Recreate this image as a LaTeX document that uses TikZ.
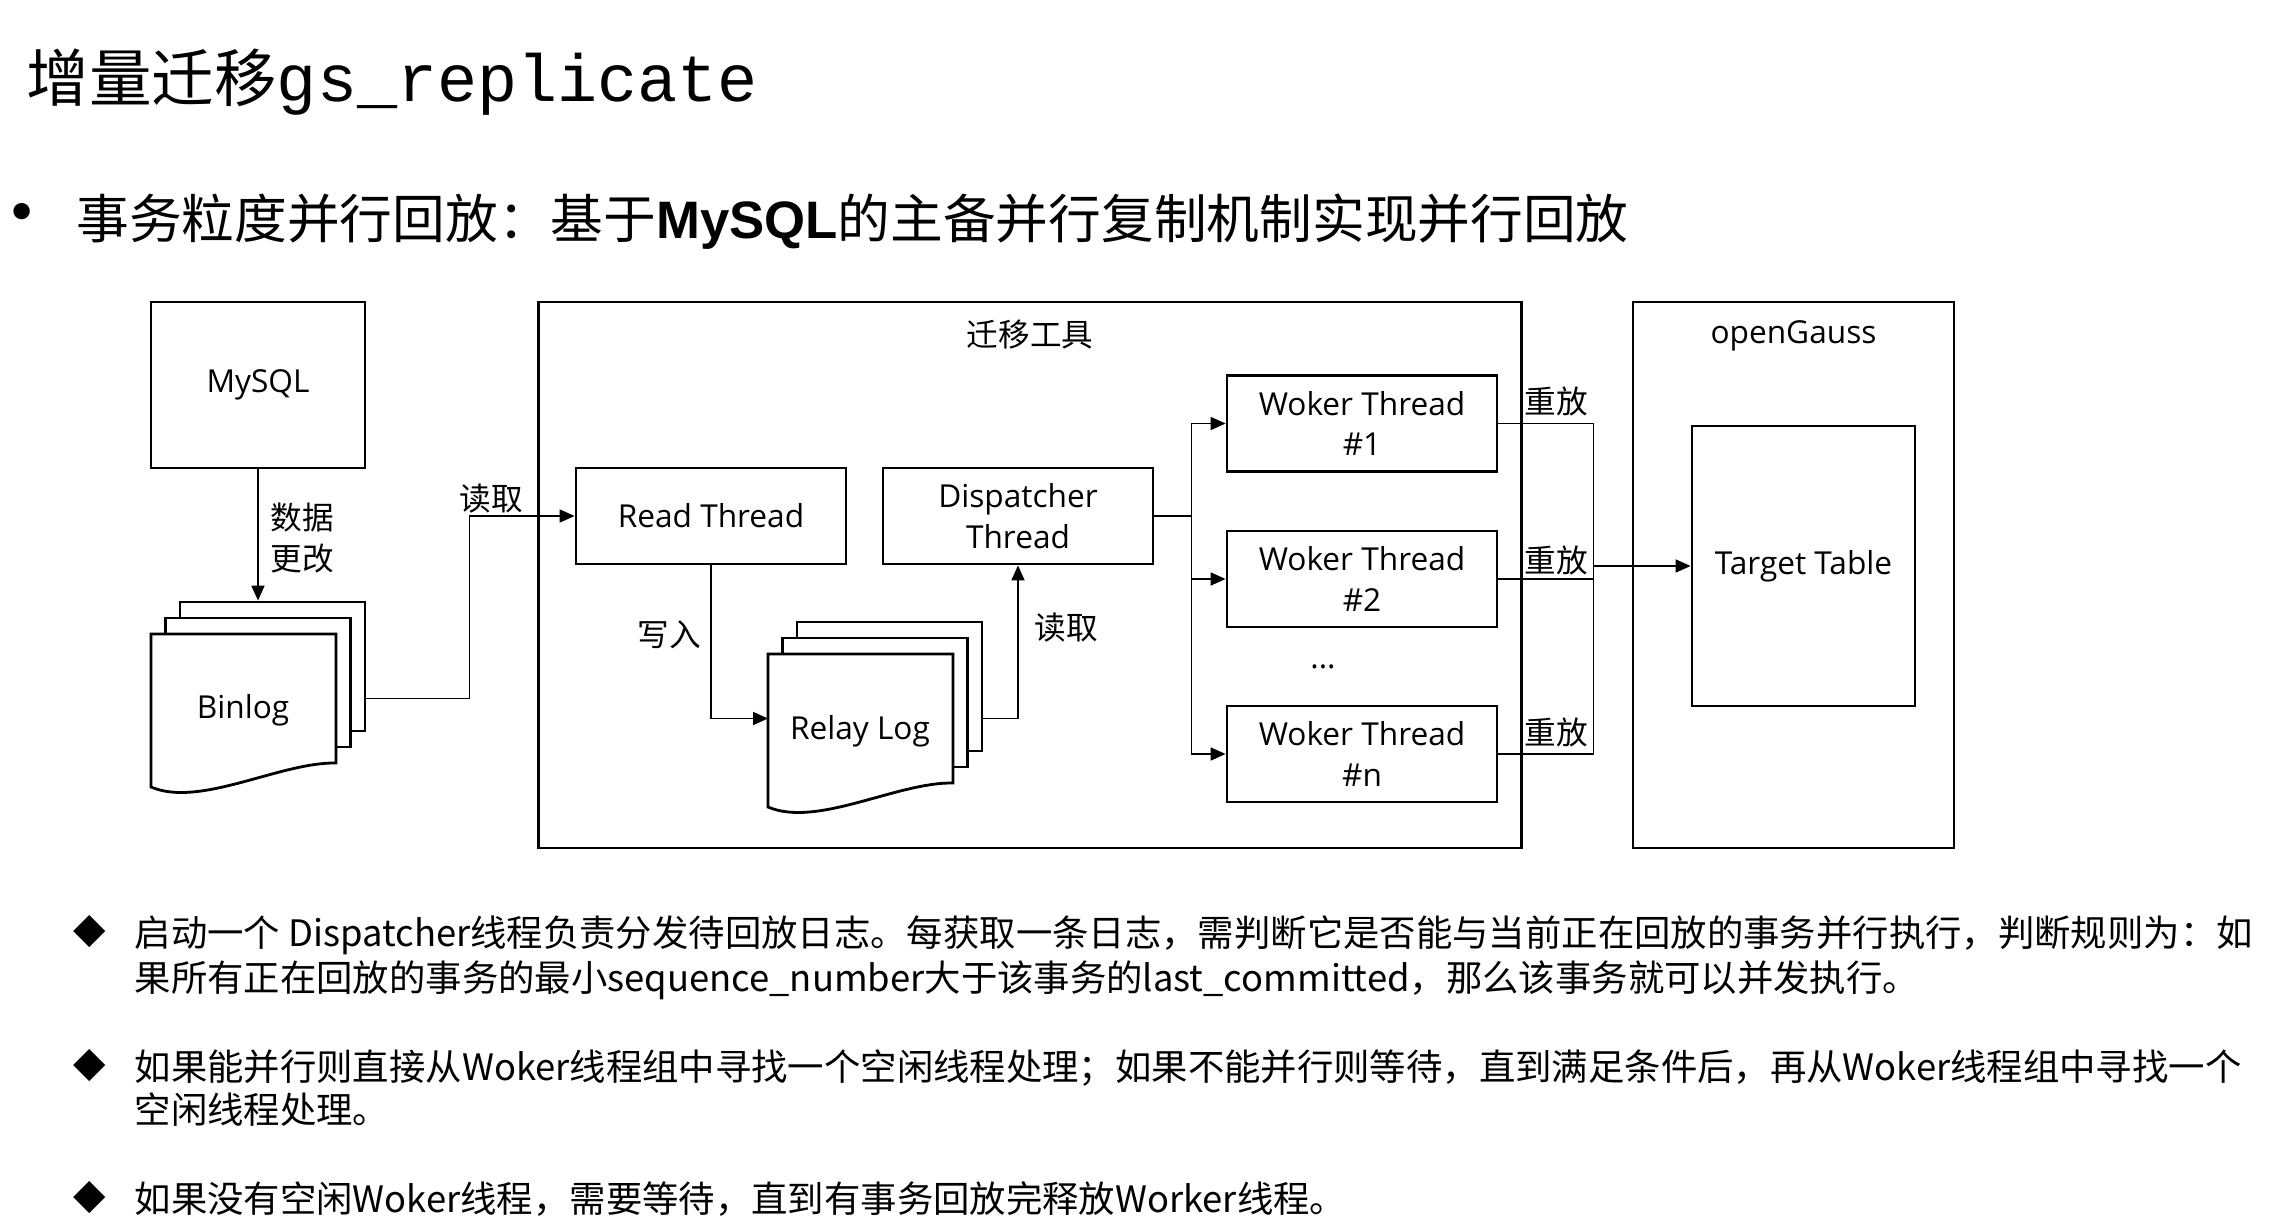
\documentclass[tikz,border=0pt]{standalone}
\usepackage{fontspec}
\setmainfont{Open Sans}
\newfontfamily\cjk{Noto Sans CJK SC}
\newfontfamily\arialfont{Liberation Sans}
\newfontfamily\monofont{Liberation Mono}
\newfontfamily\symfont{DejaVu Sans}
\usetikzlibrary{arrows.meta,positioning}

\begin{document}
\begin{tikzpicture}[
    box/.style={draw, rectangle, thick, fill=white, minimum width=2.7cm, minimum height=0.96cm, align=center, inner sep=1pt, font=\fontsize{9}{11.5}\selectfont},
    group/.style={draw, rectangle, thick, minimum height=5.46cm},
    page/.style={draw, thick, fill=white, minimum width=1.85cm, minimum height=1.29cm, inner sep=0pt},
    tag/.style={inner sep=0pt, align=center, font=\cjk\fontsize{9}{11.5}\selectfont},
    arrow/.style={-{Triangle[length=1.5mm,width=1.3mm]}, line width=0.5pt},
    link/.style={line width=0.5pt},
    bodytext/.style={anchor=base west, inner sep=0pt, font=\cjk\fontsize{10.35}{12.5}\selectfont},
    bullet/.style={inner sep=0pt, font=\symfont\fontsize{12}{14}\selectfont}
]
    \useasboundingbox[fill=white] (0,0) rectangle (22.8,-12.24);

    % heading
    \node[anchor=base west, inner sep=0pt] (title) at (0.26,-1.02) {\fontsize{17.8}{20}\selectfont\cjk 增量迁移{\monofont\fontsize{19}{20}\selectfont gs\_replicate}};
    \node[inner sep=0pt] (dot) at (0.22,-2.18) {\symfont\fontsize{16}{18}\selectfont •};
    \node[anchor=base west, inner sep=0pt] (subtitle) at (0.756,-2.38) {\fontsize{15}{18}\selectfont\cjk 事务粒度并行回放：基于{\arialfont\bfseries MySQL}的主备并行复制机制实现并行回放};

    % containers
    \node[group, minimum width=9.835cm] (tool) at (10.30,-5.75) {};
    \node[tag, below=0.19cm of tool.north] (tooltitle) {迁移工具};
    \node[group, minimum width=3.21cm] (gauss) at (17.935,-5.75) {};
    \node[tag, font=\fontsize{9}{11.5}\selectfont, below=0.19cm of gauss.north] (gausstitle) {openGauss};

    % source side
    \node[box, minimum width=2.14cm, minimum height=1.66cm] (mysql) at (2.58,-3.85) {MySQL};
    \node[page] (binlogC) at (2.725,-6.665) {};
    \node[page] (binlogB) at (2.58,-6.825) {};
    \draw[thick, fill=white] (1.51,-6.34) -- (3.36,-6.34) -- (3.36,-7.63)
        .. controls (2.80,-7.62) and (2.00,-8.08) .. (1.51,-7.87) -- cycle;
    \node[font=\fontsize{9}{11.5}\selectfont] (binlog) at (2.43,-7.10) {Binlog};

    % threads
    \node[box] (read) at (7.11,-5.16) {Read Thread};
    \node[box] (disp) at (10.18,-5.16) {Dispatcher\\Thread};
    \node[page] (relayC) at (8.895,-6.865) {};
    \node[page] (relayB) at (8.75,-7.025) {};
    \draw[thick, fill=white] (7.68,-6.54) -- (9.53,-6.54) -- (9.53,-7.83)
        .. controls (8.97,-7.82) and (8.17,-8.28) .. (7.68,-8.07) -- cycle;
    \node[font=\fontsize{9}{11.5}\selectfont] (relay) at (8.60,-7.317) {Relay Log};
    \coordinate (relayin) at (7.68,-7.185);

    \node[box] (w1) at (13.62,-4.235) {Woker Thread\\\#1};
    \node[box] (w2) at (13.62,-5.79) {Woker Thread\\\#2};
    \node[box] (wn) at (13.62,-7.54) {Woker Thread\\\#n};
    \node[font=\fontsize{9}{11.5}\selectfont] (dots) at (13.23,-6.67) {...};

    \node[box, minimum width=2.23cm, minimum height=2.80cm] (target) at (18.035,-5.66) {Target Table};

    % connectors
    \draw[arrow] (mysql.south) -- (mysql.south |- binlogC.north);
    \node[tag] (change) at (3.02,-5.38) {数据\\更改};
    \draw[arrow] ([yshift=-0.32cm]binlogC.east) -| ([xshift=-1.05cm]read.west) -- (read.west);
    \node[tag] (readlbl1) at (4.91,-4.99) {读取};
    \draw[arrow] (read.south) |- (relayin);
    \node[tag] (writelbl) at (6.69,-6.35) {写入};
    \draw[arrow] ([yshift=-0.32cm]relayC.east) -| (disp.south);
    \node[tag] (readlbl2) at (10.66,-6.28) {读取};

    \foreach \w in {w1,w2,wn}
        \draw[arrow] (disp.east) -- ++(0.37,0) |- (\w.west);
    \foreach \w in {w1,w2,wn}
        \draw[link] (\w.east) -| ([xshift=-0.97cm]target.west);
    \draw[arrow] ([xshift=-0.97cm]target.west) -- (target.west);
    \node[tag] (replay1) at (15.56,-4.01) {重放};
    \node[tag] (replay2) at (15.56,-5.60) {重放};
    \node[tag] (replayn) at (15.56,-7.32) {重放};

    % notes
    \node[bullet] (b1) at (0.90,-9.32) {◆};
    \node[bodytext] (n1a) at (1.34,-9.46) {启动一个 Dispatcher线程负责分发待回放日志。每获取一条日志，需判断它是否能与当前正在回放的事务并行执行，判断规则为：如};
    \node[bodytext] (n1b) at (1.34,-9.91) {果所有正在回放的事务的最小sequence\_number大于该事务的last\_committed，那么该事务就可以并发执行。};
    \node[bullet] (b2) at (0.90,-10.66) {◆};
    \node[bodytext] (n2a) at (1.34,-10.80) {如果能并行则直接从Woker线程组中寻找一个空闲线程处理；如果不能并行则等待，直到满足条件后，再从Woker线程组中寻找一个};
    \node[bodytext] (n2b) at (1.34,-11.23) {空闲线程处理。};
    \node[bullet] (b3) at (0.90,-11.98) {◆};
    \node[bodytext] (n3a) at (1.34,-12.12) {如果没有空闲Woker线程，需要等待，直到有事务回放完释放Worker线程。};
\end{tikzpicture}
\end{document}
